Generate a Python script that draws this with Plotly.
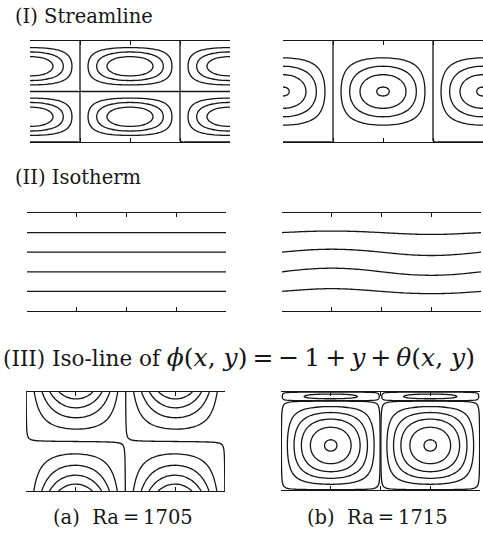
import numpy as np
import plotly.graph_objects as go

W, H = 483, 541

# ---------------- text ----------------
THIN = "\u2009"
MATH_PHI = (f"<i>ϕ</i>(<i>x</i>, <i>y</i>){THIN}={THIN}−{THIN}1{THIN}+{THIN}<i>y</i>"
            f"{THIN}+{THIN}<i>θ</i>(<i>x</i>, <i>y</i>)")
SECTION_TITLES = [
    "(I) Streamline",
    "(II) Isotherm",
    f"<span style='font-size:21.5px'>(III) Iso-line of </span><span style='font-size:25px'>{MATH_PHI}</span>",
]
CASE_TAGS = ["(a)", "(b)"]
RA_VALUES = [1705, 1715]

# ---------------- contour levels ----------------
STREAM_LEVELS_A = [-0.75, -0.5, -0.25, 0.0, 0.25, 0.5, 0.75]
STREAM_LEVELS_B = [-0.98, -0.75, -0.5, -0.25, 0.0, 0.25, 0.5, 0.75, 0.98]
ISOTHERM_LEVELS = [0.2, 0.4, 0.6, 0.8]
PHI_LEVELS_A = [-0.86, -0.68, -0.48, -0.25, 0.0, 0.25, 0.48, 0.68, 0.86]
PHI_LEVELS_B = [-0.98, -0.8, -0.6, -0.4, -0.2, -0.012, 0.012, 0.2, 0.4, 0.6, 0.8, 0.98]

# ---------------- field parameters ----------------
STREAM_PROFILE_EXP_A = 1.5  # vertical profile sharpness of the two-layer rolls
THETA_AMP_B = 0.038         # isotherm distortion amplitude, Ra=1715
PHI_SADDLE_A = 0.006        # small cosine part of phi, Ra=1705
PHI_SPLIT_B = 0.91          # height where phi changes sign, Ra=1715
PHI_THIN_AMP_B = 0.3        # amplitude of the thin upper layer, Ra=1715

# ---------------- grids ----------------
xs = np.linspace(0.0, 1.0, 81)
ys = np.linspace(0.0, 1.0, 61)
ys_fine = np.unique(np.concatenate([np.linspace(0, 1, 61), np.linspace(0.88, 1.0, 25)]))

X, Y = np.meshgrid(xs, ys)
s2 = np.sin(2 * np.pi * Y)
psi_a = np.cos(2 * np.pi * X) * np.sign(s2) * np.abs(s2) ** STREAM_PROFILE_EXP_A
psi_b = np.cos(2 * np.pi * X) * np.sin(np.pi * Y) ** 2

temp_a = 1.0 - Y
temp_b = 1.0 - Y + THETA_AMP_B * np.sin(2 * np.pi * X) * np.sin(np.pi * Y) * (1.25 - 0.6 * Y)

phi_a = np.sin(2 * np.pi * X) * (2 * Y - 1) - PHI_SADDLE_A * np.cos(2 * np.pi * X)

Xf, Yf = np.meshgrid(xs, ys_fine)
vprof = np.where(Yf <= PHI_SPLIT_B,
                 np.sin(np.pi * Yf / PHI_SPLIT_B),
                 -PHI_THIN_AMP_B * np.sin(np.pi * (Yf - PHI_SPLIT_B) / (1 - PHI_SPLIT_B)))
phi_b = np.sin(2 * np.pi * Xf) * vprof

# ---------------- the six boxes (pixels: left, right, top, bottom) ----------------
BOXES = [
    (30, 230, 41, 142), (283, 483, 41, 142),
    (27, 226, 213, 311), (282, 481, 213, 311),
    (26, 225, 392, 491), (281, 480, 392, 490),
]

PANELS = [
    (xs, ys, psi_a, STREAM_LEVELS_A),
    (xs, ys, psi_b, STREAM_LEVELS_B),
    (xs, ys, temp_a, ISOTHERM_LEVELS),
    (xs, ys, temp_b, ISOTHERM_LEVELS),
    (xs, ys, phi_a, PHI_LEVELS_A),
    (xs, ys_fine, phi_b, PHI_LEVELS_B),
]

INK = "#161616"
fig = go.Figure()
layout = {}
for i, ((x0, x1, y0, y1), (gx, gy, z, levels)) in enumerate(zip(BOXES, PANELS), start=1):
    xa, ya = f"x{i}", f"y{i}"
    for lv in levels:
        fig.add_trace(go.Contour(
            x=gx, y=gy, z=z, autocontour=False,
            contours=dict(start=lv, end=lv, size=1, coloring="none"),
            line=dict(color=INK, width=1.3, smoothing=1.0),
            showscale=False, hoverinfo="skip", xaxis=xa, yaxis=ya,
        ))
    layout[f"xaxis{i}"] = dict(
        domain=[x0 / W, x1 / W], range=[0, 1], anchor=ya,
        showline=True, linecolor=INK, linewidth=1, mirror="ticks",
        ticks="inside", ticklen=4, tickwidth=1, tickcolor=INK,
        tickvals=[0, 0.25, 0.5, 0.75, 1], showticklabels=False,
        showgrid=False, zeroline=False, fixedrange=True,
    )
    layout[f"yaxis{i}"] = dict(
        domain=[1 - y1 / H, 1 - y0 / H], range=[0, 1], anchor=xa,
        showline=False, showgrid=False, zeroline=False,
        showticklabels=False, ticks="", fixedrange=True,
    )

FONT = dict(family="DejaVu Serif, serif", size=19.5, color=INK)
annotations = []
for txt, (px, py) in zip(SECTION_TITLES, [(13, 16), (13, 178), (1, 357)]):
    annotations.append(dict(text=txt, x=px / W, y=1 - py / H, xref="paper", yref="paper",
                            xanchor="left", yanchor="middle", showarrow=False, font=FONT))
for tag, ra, cx in zip(CASE_TAGS, RA_VALUES, [123, 377]):
    annotations.append(dict(text=f"{tag}  Ra{THIN}={THIN}{ra}", x=cx / W, y=1 - 517 / H,
                            xref="paper", yref="paper", xanchor="center", yanchor="middle",
                            showarrow=False, font=FONT))

fig.update_layout(
    width=W, height=H, margin=dict(l=0, r=0, t=0, b=0),
    paper_bgcolor="white", plot_bgcolor="white", showlegend=False,
    annotations=annotations, **layout,
)
fig.write_html("out.html")
